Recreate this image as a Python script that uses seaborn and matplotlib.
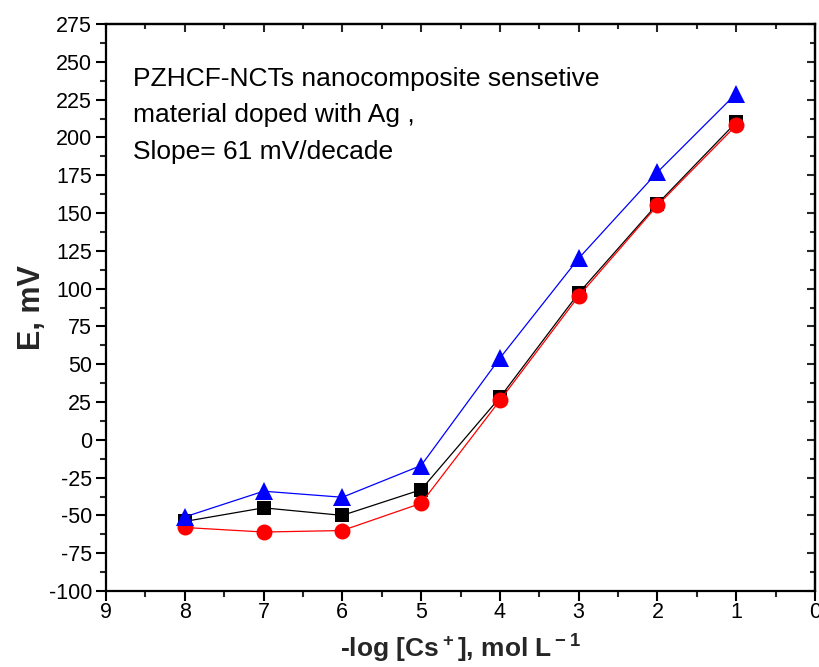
import matplotlib
matplotlib.use("Agg")
import matplotlib.pyplot as plt
import seaborn as sns
import pandas as pd
from matplotlib.ticker import MultipleLocator

sns.set_theme(style="white")
plt.rcParams['font.family'] = ['Liberation Sans', 'DejaVu Sans']
plt.rcParams['mathtext.fontset'] = 'custom'
plt.rcParams['mathtext.rm'] = 'Liberation Sans'
plt.rcParams['mathtext.bf'] = 'Liberation Sans:bold'
plt.rcParams['axes.unicode_minus'] = False

x_vals = [8, 7, 6, 5, 4, 3, 2, 1]
black_sq = [-54, -45, -50, -33, 28, 97, 156, 210]
red_circ = [-58, -61, -60, -42, 26, 95, 155, 208]
blue_tri = [-51, -34, -38, -17, 54, 120, 177, 229]

annotation = "PZHCF-NCTs nanocomposite sensetive\nmaterial doped with Ag ,\nSlope= 61 mV/decade"
xlabel = r"-log [Cs$^{\bf +}$], mol L$^{\bf -1}$"
ylabel = "E, mV"

fig = plt.figure(figsize=(8.2, 6.67), dpi=100)
ax = fig.add_axes([106/820, (667-591)/667, (815-106)/820, (591-24)/667])

series = [
    (black_sq, "black", "s", 10),
    (red_circ, "red", "o", 11.5),
    (blue_tri, "blue", "^", 13.5),
]
for vals, col, mk, ms in series:
    df = pd.DataFrame({"x": x_vals, "y": vals})
    sns.lineplot(data=df, x="x", y="y", ax=ax, color=col, marker=mk,
                 markersize=ms, markeredgewidth=0, linewidth=0.9,
                 sort=False, legend=False)

ax.set_xlim(9, 0)
ax.set_ylim(-100, 275)
ax.xaxis.set_major_locator(MultipleLocator(1))
ax.xaxis.set_minor_locator(MultipleLocator(0.5))
ax.yaxis.set_major_locator(MultipleLocator(25))
ax.yaxis.set_minor_locator(MultipleLocator(12.5))

for sp in ax.spines.values():
    sp.set_color("black")
    sp.set_linewidth(1.6)

ax.tick_params(which="major", direction="out", length=7, width=1.5,
               labelsize=15.5, colors="black", bottom=True, left=True, pad=3)
ax.tick_params(axis="x", which="major", pad=1)
ax.tick_params(which="minor", direction="out", length=4, width=1.5,
               bottom=True, left=True)

secx = ax.secondary_xaxis('top')
secx.xaxis.set_major_locator(MultipleLocator(1))
secx.xaxis.set_minor_locator(MultipleLocator(0.5))
secx.tick_params(which="major", direction="in", length=6, width=1.5, labeltop=False)
secx.tick_params(which="minor", direction="in", length=3.5, width=1.5)
secx.spines['top'].set_linewidth(1.6)

secy = ax.secondary_yaxis('right')
secy.yaxis.set_major_locator(MultipleLocator(25))
secy.yaxis.set_minor_locator(MultipleLocator(12.5))
secy.tick_params(which="major", direction="in", length=6, width=1.5, labelright=False)
secy.tick_params(which="minor", direction="in", length=3.5, width=1.5)
secy.spines['right'].set_linewidth(1.6)

ax.set_xlabel(xlabel, fontsize=19, fontweight="bold", labelpad=6)
ax.set_ylabel(ylabel, fontsize=22, fontweight="bold", labelpad=1)

ax.text(0.038, 0.925, annotation, transform=ax.transAxes, fontsize=19,
        va="top", ha="left", linespacing=1.68, color="black")

fig.savefig("out.png", dpi=100)
